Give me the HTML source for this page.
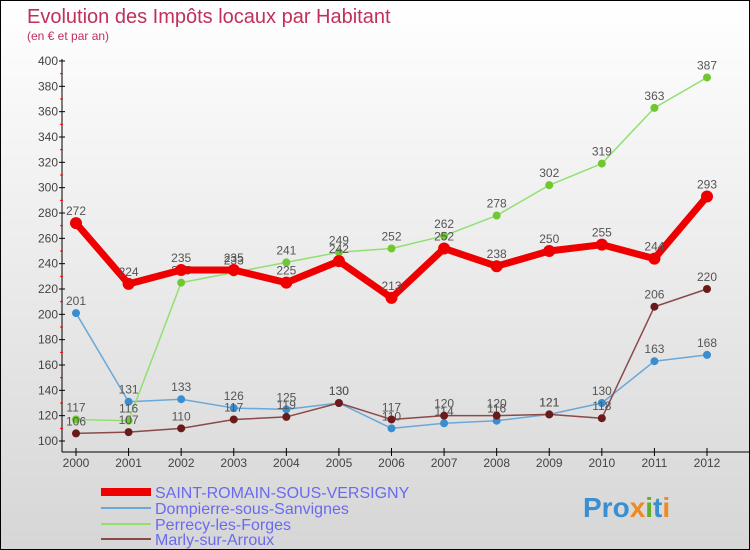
<!DOCTYPE html>
<html><head><meta charset="utf-8"><style>
body{margin:0}
#c{width:750px;height:550px;position:relative;box-sizing:border-box;border:1px solid #000;background:linear-gradient(#fff,#d6d6d6);font-family:"Liberation Sans",sans-serif;overflow:hidden}
</style></head><body>
<div id="c">
<svg id="s" width="748" height="548" style="position:absolute;left:0;top:0">
<text x="26" y="22" font-size="20" fill="#c0305a">Evolution des Impôts locaux par Habitant</text>
<text x="26" y="39" font-size="12" fill="#c0305a">(en € et par an)</text>
<g id="axes"></g><g id="series"></g>
<g>
<line x1="100" y1="491" x2="150" y2="491" stroke="#e00" stroke-width="8"/>
<text x="154" y="497" font-size="16" fill="#6a6af0">SAINT-ROMAIN-SOUS-VERSIGNY</text>
<line x1="100" y1="507" x2="150" y2="507" stroke="#6aa8d8" stroke-width="2"/>
<text x="154" y="513" font-size="16" fill="#6a6af0">Dompierre-sous-Sanvignes</text>
<line x1="100" y1="523" x2="150" y2="523" stroke="#90e070" stroke-width="2"/>
<text x="154" y="529" font-size="16" fill="#6a6af0">Perrecy-les-Forges</text>
<line x1="100" y1="538" x2="150" y2="538" stroke="#8a4a4a" stroke-width="2"/>
<text x="154" y="544" font-size="16" fill="#6a6af0">Marly-sur-Arroux</text>
</g>
<text x="582" y="516" font-size="28" font-weight="bold" fill="#3a8fd0">Pro<tspan fill="#f08a20">x</tspan><tspan fill="#60b030">i</tspan>t<tspan fill="#f08a20">i</tspan></text>
</svg>
</div>
<script>
const years=[2000,2001,2002,2003,2004,2005,2006,2007,2008,2009,2010,2011,2012];
const yTicks=[100,120,140,160,180,200,220,240,260,280,300,320,340,360,380,400];
const saintRomain=[272,224,235,235,225,242,213,252,238,250,255,244,293];
const dompierre=[201,131,133,126,125,130,110,114,116,121,130,163,168];
const perrecy=[117,116,225,233,241,249,252,262,278,302,319,363,387];
const marly=[106,107,110,117,119,130,117,120,120,121,118,206,220];
const NS="http://www.w3.org/2000/svg";
function xs(i){return 75+i*(706-75)/12;}
function ys(v){return 440-(v-100)*380/300;}
function mk(t,a,p){const e=document.createElementNS(NS,t);for(const k in a)e.setAttribute(k,a[k]);p.appendChild(e);return e;}
const ax=document.getElementById('axes');
let l=mk('line',{x1:61,y1:58,x2:61,y2:451,stroke:'#000'},ax);


l=mk('line',{x1:61,y1:451,x2:748,y2:451,stroke:'#000'},ax);


yTicks.forEach(v=>{const y=ys(v);
mk('line',{x1:58,y1:y,x2:64,y2:y,stroke:'#000'},ax);
if(v<400)mk('line',{x1:59,y1:y-12.67,x2:62,y2:y-12.67,stroke:'red'},ax);
const t=mk('text',{x:57,y:y+4,'font-size':12,fill:'#444','text-anchor':'end'},ax);t.textContent=v;

});
years.forEach((yr,i)=>{const x=xs(i);
mk('line',{x1:x,y1:447,x2:x,y2:455,stroke:'#000'},ax);
const t=mk('text',{x:x,y:466,'font-size':12,fill:'#444','text-anchor':'middle'},ax);t.textContent=yr;

});
const sg=document.getElementById('series');
function draw(vals,name,color,w,r,dot){
const g=mk('g',{},sg);


mk('polyline',{points:vals.map((v,i)=>xs(i)+','+ys(v)).join(' '),fill:'none',stroke:color,'stroke-width':w,'stroke-linejoin':'round'},g);
vals.forEach((v,i)=>{const c=mk('circle',{cx:xs(i),cy:ys(v),r:r,fill:dot},g);


const t=mk('text',{x:xs(i),y:ys(v)-8,'font-size':12,fill:'#555','text-anchor':'middle'},g);t.textContent=v;

});}
draw(dompierre,'dompierre','#6aa8d8',1.5,4,'#3a8ed0');
draw(perrecy,'perrecy','#90e070',1.5,4,'#70c830');
draw(marly,'marly','#8a4a4a',1.5,4,'#6a1a1a');
draw(saintRomain,'saint-romain','#e00',7,6,'#e00');
</script>
</body></html>
